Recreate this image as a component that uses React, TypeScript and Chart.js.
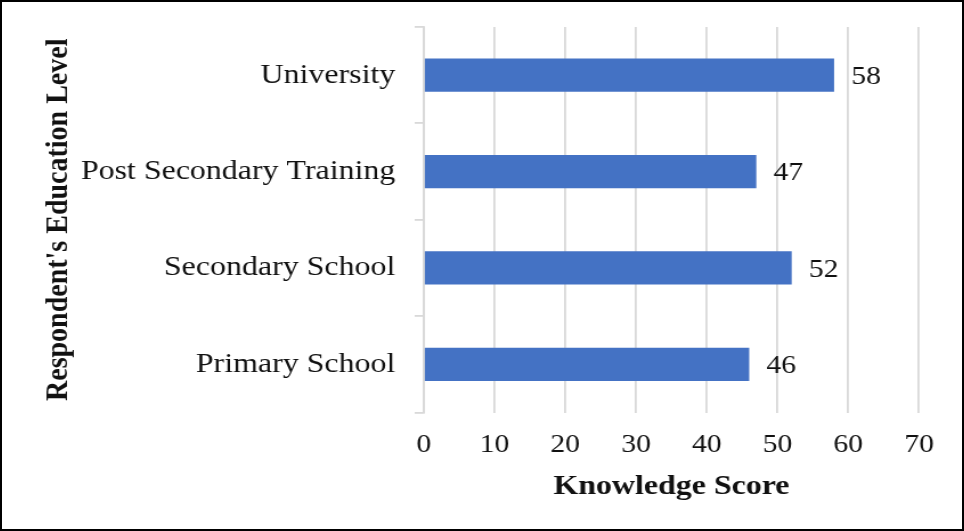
import React, { useEffect, useRef } from "react";
import { Chart, registerables } from "chart.js";

Chart.register(...registerables);

const categories = ["University", "Post Secondary Training", "Secondary School", "Primary School"];
const scores = [58, 47, 52, 46];
const xTicks = [0, 10, 20, 30, 40, 50, 60, 70];
const xTitle = "Knowledge Score";
const yTitle = "Respondent's Education Level";

const STRETCH = 1.14;
const OUTER_W = 964;
const OUTER_H = 531;
const BORDER = 2;
const INNER_W = (OUTER_W - 2 * BORDER) / STRETCH;
const INNER_H = OUTER_H - 2 * BORDER;
const FONT = "'Liberation Serif', 'Times New Roman', serif";

const valueLabels = {
  id: "valueLabels",
  afterDatasetsDraw(chart: any) {
    const ctx = chart.ctx;
    const meta = chart.getDatasetMeta(0);
    ctx.save();
    ctx.font = `26px ${FONT}`;
    ctx.fillStyle = "#111";
    ctx.textAlign = "left";
    ctx.textBaseline = "middle";
    meta.data.forEach((el: any, i: number) => {
      ctx.fillText(String(chart.data.datasets[0].data[i]), el.x + 15, el.y + 2);
    });
    ctx.restore();
  },
};

export default function App() {
  const ref = useRef<HTMLCanvasElement | null>(null);

  useEffect(() => {
    document.body.style.margin = "0";
    if (!ref.current) return;
    const chart = new Chart(ref.current, {
      type: "bar",
      data: {
        labels: categories,
        datasets: [
          {
            data: scores,
            backgroundColor: "#4472C4",
            barPercentage: 0.345,
            categoryPercentage: 1,
          },
        ],
      },
      options: {
        indexAxis: "y",
        animation: false,
        responsive: true,
        maintainAspectRatio: false,
        layout: { padding: { top: 25, right: INNER_W - 804.4, left: 0, bottom: 0 } },
        plugins: { legend: { display: false }, tooltip: { enabled: false } },
        scales: {
          x: {
            min: 0,
            max: 70,
            afterBuildTicks: (scale: any) => {
              scale.ticks = xTicks.map((v) => ({ value: v }));
            },
            afterFit: (scale: any) => {
              scale.height = INNER_H - 410.5;
            },
            grid: { color: "#d9d9d9", lineWidth: 1.8, drawTicks: false },
            border: { display: false },
            ticks: {
              padding: 17,
              color: "#111",
              font: { family: FONT, size: 26 },
            },
            title: {
              display: true,
              text: xTitle,
              color: "#111",
              font: { family: FONT, size: 28, weight: "bold" },
              padding: { top: 0, bottom: 25 },
            },
          },
          y: {
            afterFit: (scale: any) => {
              scale.width = 370;
              scale.paddingTop = 0;
              scale.paddingBottom = 0;
            },
            grid: {
              drawOnChartArea: false,
              drawTicks: true,
              tickLength: 8,
              color: "#d9d9d9",
              lineWidth: 1.8,
              offset: true,
            },
            border: { display: true, color: "#d9d9d9", width: 1.8 },
            ticks: {
              padding: 17,
              color: "#111",
              font: { family: FONT, size: 28 },
            },
            title: {
              display: true,
              text: yTitle,
              color: "#111",
              font: { family: FONT, size: 28, weight: "bold" },
              padding: { top: 32.5, bottom: 0 },
            },
          },
        },
      },
      plugins: [valueLabels],
    });
    return () => chart.destroy();
  }, []);

  return (
    <div
      style={{
        width: OUTER_W,
        height: OUTER_H,
        boxSizing: "border-box",
        border: `${BORDER}px solid #000`,
        overflow: "hidden",
        background: "#fff",
        position: "relative",
      }}
    >
      <div
        style={{
          width: INNER_W,
          height: INNER_H,
          transform: `scaleX(${STRETCH})`,
          transformOrigin: "0 0",
          position: "relative",
        }}
      >
        <canvas ref={ref} />
      </div>
    </div>
  );
}
